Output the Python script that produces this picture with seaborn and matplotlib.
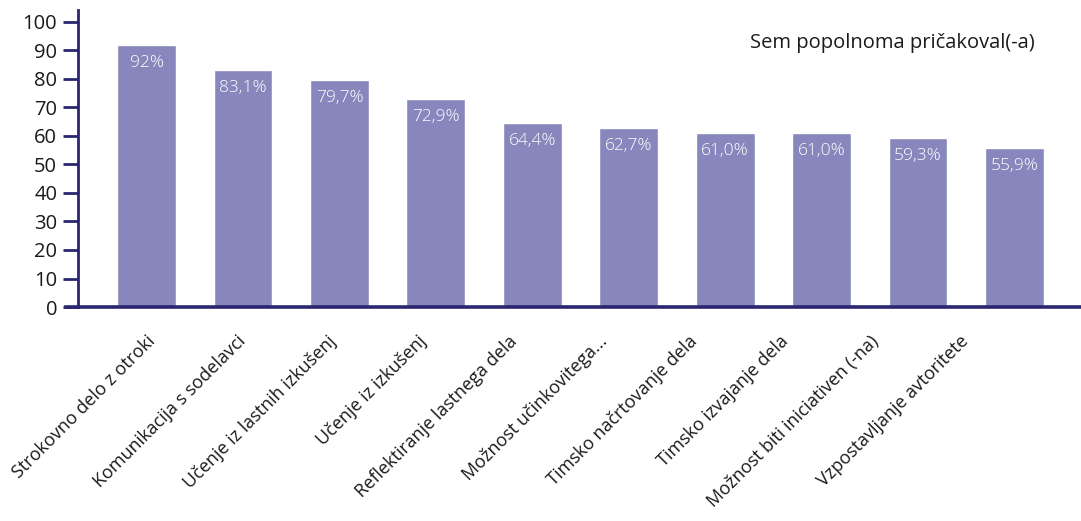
import matplotlib
matplotlib.use("Agg")
import matplotlib.pyplot as plt
import seaborn as sns
import pandas as pd
import numpy as np

categories = [
    "Strokovno delo z otroki",
    "Komunikacija s sodelavci",
    "Učenje iz lastnih izkušenj",
    "Učenje iz izkušenj",
    "Reflektiranje lastnega dela",
    "Možnost učinkovitega...",
    "Timsko načrtovanje dela",
    "Timsko izvajanje dela",
    "Možnost biti iniciativen (-na)",
    "Vzpostavljanje avtoritete",
]
values = [92.0, 83.1, 79.7, 72.9, 64.4, 62.7, 61.0, 61.0, 59.3, 55.9]
value_labels = ["92%", "83,1%", "79,7%", "72,9%", "64,4%", "62,7%", "61,0%", "61,0%", "59,3%", "55,9%"]
series_name = "Sem popolnoma pričakoval(-a)"
yticks = [0, 10, 20, 30, 40, 50, 60, 70, 80, 90, 100]

BAR = "#8787bd"
NAVY = "#2b2670"
TEXT = "#1a1a1a"

sns.set_theme(style="white")
plt.rcParams["font.family"] = ["Open Sans", "DejaVu Sans"]

df = pd.DataFrame({"cat": categories, "val": values})

fig = plt.figure(figsize=(10.81, 5.21), dpi=100)
ax = fig.add_axes([0.0722, 0.4107, 0.9278, 0.5703])

sns.barplot(data=df, x="cat", y="val", color=BAR, saturation=1, width=0.61, ax=ax)

ax.set_xlim(-0.71, 9.69)
ax.set_ylim(0, 104.2)
ax.set_yticks(yticks)
ax.set_yticklabels([str(t) for t in yticks], fontsize=14.5, color=TEXT)
ax.set_xlabel("")
ax.set_ylabel("")

for s in ["top", "right"]:
    ax.spines[s].set_visible(False)
ax.spines["left"].set_color(NAVY)
ax.spines["left"].set_linewidth(2)
ax.spines["bottom"].set_color(NAVY)
ax.spines["bottom"].set_linewidth(2.6)
ax.spines["bottom"].set_bounds(-0.83, 9.69)
ax.spines["bottom"].set_clip_on(False)

ax.tick_params(axis="y", left=True, length=11, width=2, color=NAVY, pad=4)
ax.tick_params(axis="x", bottom=False, pad=12)

# category labels sit on a slightly tighter pitch than the bars
label_pos = np.arange(len(categories)) * 0.937
ax.set_xticks(label_pos)
ax.set_xticklabels(categories, rotation=45, ha="right", rotation_mode="anchor",
                   fontsize=13, color=TEXT)
for lab in ax.get_xticklabels():
    lab.set_fontweight("medium")

for i, (v, lab) in enumerate(zip(values, value_labels)):
    ax.annotate(lab, xy=(i, v), xytext=(0, -13), textcoords="offset points",
                ha="center", va="center", color="white", fontsize=12.5,
                fontweight="light")

ax.text(0.9535, 0.89, series_name, transform=ax.transAxes, ha="right", va="center",
        fontsize=14.5, color=TEXT)

fig.savefig("out.png", dpi=100)
